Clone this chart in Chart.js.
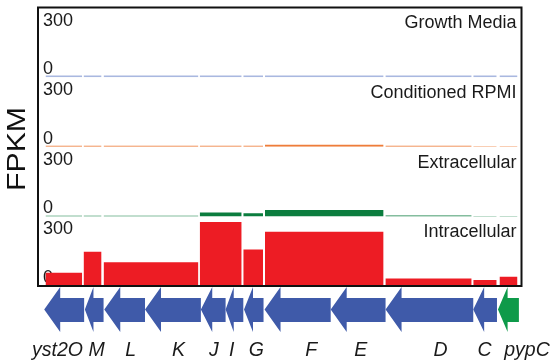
<!DOCTYPE html>
<html>
<head>
<meta charset="utf-8">
<script src="https://cdn.jsdelivr.net/npm/chart.js@4.4.1/dist/chart.umd.min.js"></script>
<style>
  html, body { margin: 0; padding: 0; background: #ffffff; }
  canvas { display: block; }
</style>
</head>
<body>
<canvas id="locus" width="554" height="361"></canvas>
<script>
// Transcribed segments along the locus (bp)
const segStart = [300, 1830, 2630, 6470, 8210, 9070, 13890, 17400, 18450];
const segEnd   = [1760, 2530, 6400, 8130, 8990, 13800, 17320, 18320, 19160];

// FPKM per segment for each condition
const conditions      = ['Growth Media', 'Conditioned RPMI', 'Extracellular', 'Intracellular'];
const growthMedia     = [10, 10, 10, 10, 10, 10, 10, 10, 10];
const conditionedRPMI = [6, 6, 6, 6, 6, 12, 6, 3, 3];
const extracellular   = [4, 4, 4, 24, 19, 39, 6, 3, 3];
const intracellular   = [82, 211, 146, 396, 226, 335, 47, 37, 57];

// Gene map (all genes on the reverse strand)
const genes       = ['yst2O', 'M', 'L', 'K', 'J', 'I', 'G', 'F', 'E', 'D', 'C', 'pypC'];
const geneOperon  = ['yst', 'yst', 'yst', 'yst', 'yst', 'yst', 'yst', 'yst', 'yst', 'yst', 'yst', 'pyp'];
const geneStart   = [248, 1872, 2648, 4276, 6508, 7496, 8232, 9052, 11696, 13888, 17392, 18380];
const geneEnd     = [1844, 2620, 4276, 6508, 7496, 8204, 9012, 11696, 13888, 17392, 18340, 19216];
const geneLabelAt = [780, 2340, 3708, 5616, 7032, 7736, 8728, 10920, 12896, 16080, 17840, 19540];

const yTicks = [0, 300];
const locusLength = 19320;
const fpkmMax = 430;

const FONT = '"Liberation Sans", Arial, Helvetica, sans-serif';
const operonColour = { yst: '#3f5aa9', pyp: '#0e9a49' };

// Turn per-segment values into a closed block outline for a filled line
function blocks(values) {
  const pts = [];
  values.forEach((v, i) => {
    pts.push({ x: segStart[i], y: 0 }, { x: segStart[i], y: v },
             { x: segEnd[i], y: v }, { x: segEnd[i], y: 0 });
  });
  return pts;
}

const panels = [
  { axis: 'yGrowth', values: growthMedia,     colour: '#a9b8e0' },
  { axis: 'yCond',   values: conditionedRPMI, colour: '#ee7d3a' },
  { axis: 'yExtra',  values: extracellular,   colour: '#0b7d3e' },
  { axis: 'yIntra',  values: intracellular,   colour: '#ed1c24' }
];

function panelAxis() {
  return {
    type: 'linear',
    position: 'left',
    stack: 'fpkm',
    stackWeight: 1,
    min: 0,
    max: fpkmMax,
    z: 1,
    grid: { display: false },
    border: { display: false },
    afterBuildTicks: s => { s.ticks = yTicks.map(v => ({ value: v })); },
    afterFit: s => { s.width = 0; s.paddingTop = 0; s.paddingBottom = 0; },
    ticks: {
      mirror: true,
      padding: 5,
      labelOffset: -8,
      autoSkip: false,
      color: '#1a1a1a',
      font: { family: FONT, size: 18 }
    }
  };
}

// Left-stacked axes are laid out last-first, so the top panel is listed last
const scales = {
  x: { type: 'linear', min: 0, max: locusLength, display: false },
  yIntra: panelAxis(),
  yExtra: panelAxis(),
  yCond: panelAxis(),
  yGrowth: panelAxis()
};

const locusDecor = {
  id: 'locusDecor',
  afterDraw(chart) {
    const ctx = chart.ctx;
    const area = chart.chartArea;
    const xs = chart.scales.x;

    // panel names
    ctx.save();
    ctx.fillStyle = '#1a1a1a';
    ctx.font = '18px ' + FONT;
    ctx.textAlign = 'right';
    ctx.textBaseline = 'middle';
    panels.forEach((p, i) => {
      const s = chart.scales[p.axis];
      ctx.fillText(conditions[i], area.right - 5, s.top + 16);
    });
    ctx.restore();

    // frame around the four panels
    ctx.save();
    ctx.strokeStyle = '#111111';
    ctx.lineWidth = 2;
    ctx.strokeRect(area.left, area.top, area.right - area.left, area.bottom - area.top);
    ctx.restore();

    // gene arrows (pointing left, reverse strand)
    const headTop = area.bottom + 1, headBot = area.bottom + 46;
    const shaftTop = area.bottom + 12, shaftBot = area.bottom + 36;
    const mid = (headTop + headBot) / 2;
    ctx.save();
    genes.forEach((g, i) => {
      const x1 = xs.getPixelForValue(geneStart[i]);
      const x2 = xs.getPixelForValue(geneEnd[i]);
      const head = Math.min(16, 0.46 * (x2 - x1));
      ctx.beginPath();
      ctx.moveTo(x1, mid);
      ctx.lineTo(x1 + head, headTop);
      ctx.lineTo(x1 + head, shaftTop);
      ctx.lineTo(x2, shaftTop);
      ctx.lineTo(x2, shaftBot);
      ctx.lineTo(x1 + head, shaftBot);
      ctx.lineTo(x1 + head, headBot);
      ctx.closePath();
      ctx.fillStyle = operonColour[geneOperon[i]];
      ctx.fill();
    });
    ctx.restore();

    // gene names
    ctx.save();
    ctx.fillStyle = '#1a1a1a';
    ctx.font = 'italic 19.5px ' + FONT;
    ctx.textAlign = 'center';
    ctx.textBaseline = 'alphabetic';
    genes.forEach((g, i) => {
      ctx.fillText(g, xs.getPixelForValue(geneLabelAt[i]), area.bottom + 70);
    });
    ctx.restore();

    // shared y title
    ctx.save();
    ctx.translate(17.5, 149);
    ctx.rotate(-Math.PI / 2);
    ctx.font = '26px ' + FONT;
    const w = ctx.measureText('FPKM').width;
    ctx.scale(84 / w, 1);
    ctx.fillStyle = '#111111';
    ctx.textAlign = 'center';
    ctx.textBaseline = 'middle';
    ctx.fillText('FPKM', 0, 0);
    ctx.restore();
  }
};

new Chart(document.getElementById('locus'), {
  type: 'line',
  data: {
    datasets: panels.map((p, i) => ({
      label: conditions[i],
      data: blocks(p.values),
      yAxisID: p.axis,
      xAxisID: 'x',
      backgroundColor: p.colour,
      borderColor: 'transparent',
      borderWidth: 0,
      pointRadius: 0,
      pointHoverRadius: 0,
      tension: 0,
      fill: 'origin'
    }))
  },
  options: {
    responsive: false,
    devicePixelRatio: 1,
    animation: false,
    events: [],
    layout: { padding: { left: 38, top: 7.5, right: 32.5, bottom: 75 } },
    plugins: { legend: { display: false }, tooltip: { enabled: false } },
    scales
  },
  plugins: [locusDecor]
});
</script>
</body>
</html>
